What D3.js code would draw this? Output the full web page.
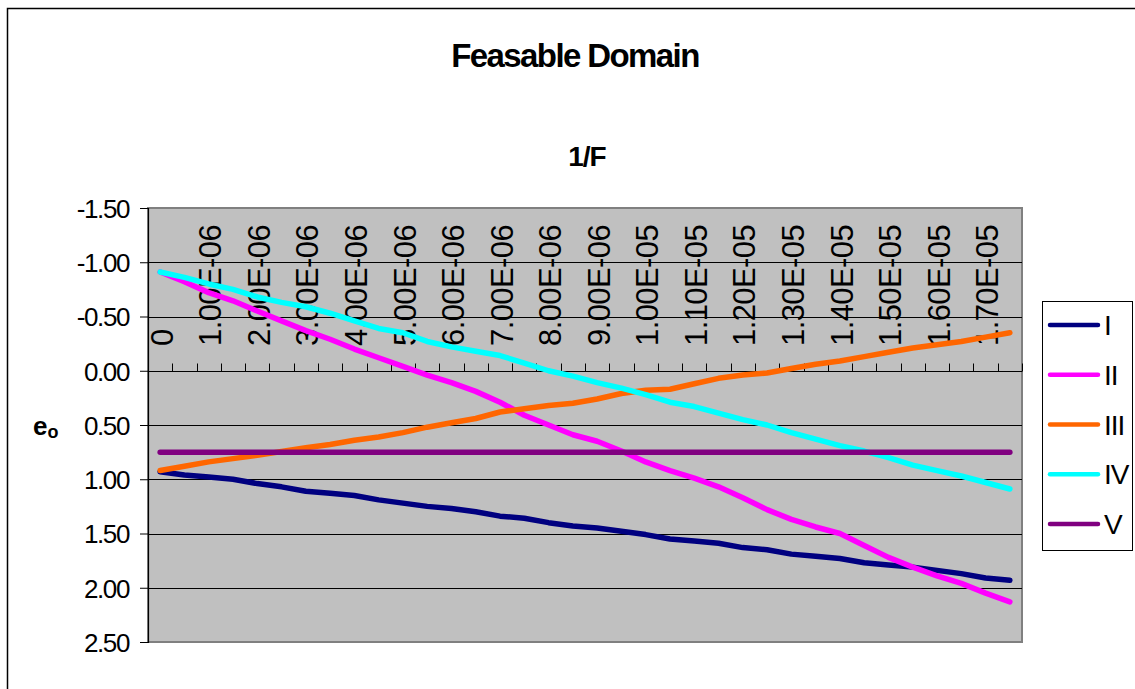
<!DOCTYPE html>
<html>
<head>
<meta charset="utf-8">
<script src="https://cdn.jsdelivr.net/npm/d3@7"></script>
<style>
  html, body { margin: 0; padding: 0; background: #fff; }
  svg { display: block; font-family: "Liberation Sans", Arial, sans-serif; }
</style>
</head>
<body>
<svg id="chart" width="1135" height="689"></svg>
<script>
// ---- data ----
const categories = [0, 5e-7, 1e-6, 1.5e-6, 2e-6, 2.5e-6, 3e-6, 3.5e-6, 4e-6, 4.5e-6, 5e-6, 5.5e-6,
  6e-6, 6.5e-6, 7e-6, 7.5e-6, 8e-6, 8.5e-6, 9e-6, 9.5e-6, 1e-5, 1.05e-5, 1.1e-5, 1.15e-5,
  1.2e-5, 1.25e-5, 1.3e-5, 1.35e-5, 1.4e-5, 1.45e-5, 1.5e-5, 1.55e-5, 1.6e-5, 1.65e-5, 1.7e-5, 1.75e-5];
const xTickLabels = ["0", "1.00E-06", "2.00E-06", "3.00E-06", "4.00E-06", "5.00E-06", "6.00E-06",
  "7.00E-06", "8.00E-06", "9.00E-06", "1.00E-05", "1.10E-05", "1.20E-05", "1.30E-05", "1.40E-05",
  "1.50E-05", "1.60E-05", "1.70E-05"];
const yTicks = [-1.5, -1.0, -0.5, 0, 0.5, 1.0, 1.5, 2.0, 2.5];
const yTickLabels = ["-1.50", "-1.00", "-0.50", "0.00", "0.50", "1.00", "1.50", "2.00", "2.50"];
const seriesNames = ["I", "II", "III", "IV", "V"];
const seriesI = [0.93, 0.96, 0.98, 1.00, 1.04, 1.07, 1.11, 1.13, 1.15, 1.19, 1.22, 1.25, 1.27, 1.30, 1.34, 1.36,
  1.40, 1.43, 1.45, 1.48, 1.51, 1.55, 1.57, 1.59, 1.63, 1.65, 1.69, 1.71, 1.73, 1.77, 1.79, 1.81, 1.84, 1.87, 1.91, 1.93];
const seriesII = [-0.91, -0.82, -0.72, -0.645, -0.55, -0.46, -0.37, -0.29, -0.20, -0.12, -0.04, 0.04, 0.11, 0.19,
  0.29, 0.41, 0.50, 0.59, 0.65, 0.74, 0.84, 0.92, 0.99, 1.07, 1.17, 1.28, 1.37, 1.44, 1.50, 1.61, 1.72, 1.81,
  1.89, 1.96, 2.05, 2.13];
const seriesIII = [0.92, 0.88, 0.84, 0.81, 0.78, 0.745, 0.71, 0.68, 0.64, 0.61, 0.57, 0.52, 0.48, 0.44, 0.38,
  0.35, 0.32, 0.30, 0.26, 0.21, 0.18, 0.17, 0.12, 0.07, 0.04, 0.02, -0.02, -0.06, -0.09, -0.13, -0.17, -0.21,
  -0.24, -0.27, -0.31, -0.35];
const seriesIV = [-0.91, -0.86, -0.80, -0.75, -0.68, -0.63, -0.59, -0.53, -0.46, -0.39, -0.35, -0.27, -0.22,
  -0.18, -0.14, -0.07, 0.00, 0.05, 0.11, 0.16, 0.22, 0.29, 0.33, 0.39, 0.45, 0.50, 0.57, 0.63, 0.69, 0.74,
  0.80, 0.87, 0.92, 0.97, 1.03, 1.09];
const seriesV = [0.75, 0.75, 0.75, 0.75, 0.75, 0.75, 0.75, 0.75, 0.75, 0.75, 0.75, 0.75, 0.75, 0.75, 0.75,
  0.75, 0.75, 0.75, 0.75, 0.75, 0.75, 0.75, 0.75, 0.75, 0.75, 0.75, 0.75, 0.75, 0.75, 0.75, 0.75, 0.75,
  0.75, 0.75, 0.75, 0.75];
const seriesColors = ["#000080", "#FF00FF", "#FF6600", "#00FFFF", "#800080"];

// ---- drawing ----
const svg = d3.select("#chart");
const plot = { left: 148, right: 1022, top: 208, bottom: 642 };

// outer chart border
svg.append("rect").attr("x", 7.5).attr("y", 8.5).attr("width", 1200).attr("height", 800)
  .attr("fill", "#fff").attr("stroke", "#000").attr("stroke-width", 1.5);

const x = d3.scaleBand().domain(categories.map((d, i) => i)).range([plot.left, plot.right]).padding(0);
const y = d3.scaleLinear().domain([-1.5, 2.5]).range([plot.top, plot.bottom]);
const cx = i => x(i) + x.bandwidth() / 2;

// plot background
svg.append("rect").attr("x", plot.left).attr("y", plot.top)
  .attr("width", plot.right - plot.left).attr("height", plot.bottom - plot.top)
  .attr("fill", "#C0C0C0").attr("stroke", "#808080").attr("stroke-width", 2);

// gridlines
svg.append("g").selectAll("line").data(yTicks.slice(1, -1)).join("line")
  .attr("x1", plot.left).attr("x2", plot.right)
  .attr("y1", d => Math.round(y(d)) + 0.5).attr("y2", d => Math.round(y(d)) + 0.5)
  .attr("stroke", "#000").attr("stroke-width", 1);

// y axis
const yAxis = svg.append("g").attr("transform", `translate(${plot.left},0)`)
  .call(d3.axisLeft(y).tickValues(yTicks).tickFormat((d, i) => yTickLabels[i]).tickSize(8).tickPadding(11));
yAxis.select(".domain").attr("stroke", "#000").attr("stroke-width", 1.2);
yAxis.selectAll(".tick line").attr("stroke", "#000");
yAxis.selectAll(".tick text").attr("font-size", 26).attr("fill", "#000")
  .attr("letter-spacing", -1.4).attr("dy", "0.36em")
  .attr("font-family", "'Liberation Sans', Arial, sans-serif");

// x axis at y=0 with ticks between categories (upwards)
const y0 = Math.round(y(0)) + 0.5;
const xg = svg.append("g");
xg.append("line").attr("x1", plot.left).attr("x2", plot.right).attr("y1", y0).attr("y2", y0)
  .attr("stroke", "#000").attr("stroke-width", 1.2);
const bounds = categories.map((d, i) => x(i)).concat([x(categories.length - 1) + x.bandwidth()]);
xg.selectAll("line.tk").data(bounds).join("line").attr("class", "tk")
  .attr("x1", d => Math.round(d) + 0.5).attr("x2", d => Math.round(d) + 0.5)
  .attr("y1", y0).attr("y2", y0 - 8).attr("stroke", "#000");
xg.selectAll("text").data(xTickLabels).join("text")
  .attr("transform", (d, k) => `translate(${cx(k * 2) + 1.5},${plot.top + 138}) rotate(-90)`)
  .attr("dy", "0.36em").attr("text-anchor", "start")
  .attr("font-size", 31).attr("letter-spacing", -0.6).attr("fill", "#000")
  .text(d => d);

// series lines
const allSeries = [seriesI, seriesII, seriesIII, seriesIV, seriesV];
const line = d3.line().x((d, i) => cx(i)).y(d => y(d));
svg.append("g").selectAll("path").data(allSeries).join("path")
  .attr("d", d => line(d)).attr("fill", "none")
  .attr("stroke", (d, i) => seriesColors[i]).attr("stroke-width", 5.5)
  .attr("stroke-linejoin", "round").attr("stroke-linecap", "round");

// titles
svg.append("text").attr("x", 575).attr("y", 67).attr("text-anchor", "middle")
  .attr("font-size", 33).attr("font-weight", "bold").attr("letter-spacing", -1.6)
  .text("Feasable Domain");
svg.append("text").attr("x", 587).attr("y", 166).attr("text-anchor", "middle")
  .attr("font-size", 28).attr("font-weight", "bold").attr("letter-spacing", -1)
  .text("1/F");
const yt = svg.append("text").attr("x", 33).attr("y", 435)
  .attr("font-size", 26).attr("font-weight", "bold");
yt.append("tspan").text("e");
yt.append("tspan").attr("font-size", 18).attr("dy", 3).text("o");

// legend
const lg = svg.append("g");
lg.append("rect").attr("x", 1042.5).attr("y", 301.5).attr("width", 90).attr("height", 249)
  .attr("fill", "#fff").attr("stroke", "#000").attr("stroke-width", 1);
const ly = d3.scalePoint().domain(seriesNames).range([325, 524]);
const items = lg.selectAll("g").data(seriesNames).join("g")
  .attr("transform", d => `translate(0,${ly(d)})`);
items.append("line").attr("x1", 1050).attr("x2", 1098).attr("y1", 0).attr("y2", 0)
  .attr("stroke", (d, i) => seriesColors[i]).attr("stroke-width", 4.5).attr("stroke-linecap", "round");
items.append("text").attr("x", 1104).attr("dy", "0.36em").attr("font-size", 28)
  .attr("letter-spacing", -1).text(d => d);
</script>
</body>
</html>
